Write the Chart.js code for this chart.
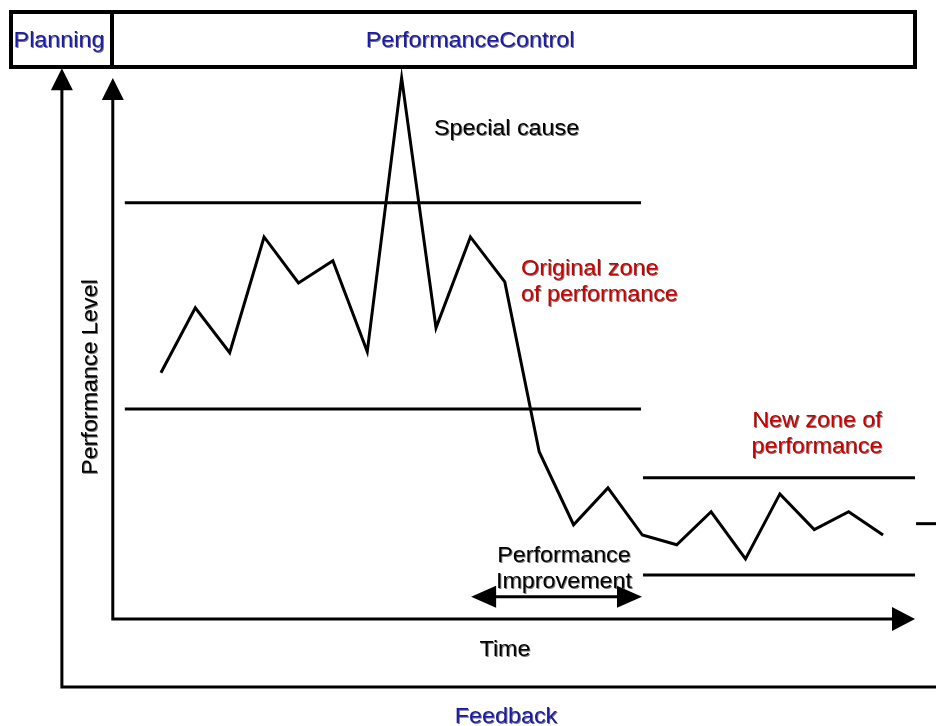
<!DOCTYPE html>
<html>
<head>
<meta charset="utf-8">
<title>Performance Control</title>
<script src="https://cdn.jsdelivr.net/npm/chart.js@4"></script>
<style>
    html, body { margin: 0; padding: 0; background: #fff; overflow: hidden; }
    #wrap { width: 936px; height: 726px; }
</style>
</head>
<body>
<div id="wrap"><canvas id="chart" width="936" height="726"></canvas></div>
<script>
// Time periods and the measured performance level at each one
const periods = [0, 1, 2, 3, 4, 5, 6, 7, 8, 9, 10, 11, 12, 13, 14, 15, 16, 17, 18, 19, 20, 21];
const performance = [45.5, 57.5, 49.2, 70.6, 62.1, 66.2, 49.4, 100, 53.8, 70.6, 62.3,
                     30.9, 17.4, 24.2, 15.5, 13.7, 19.8, 11.1, 23.1, 16.5, 19.8, 15.5];

// Control limits: level, first period, last period
const limitLevels = [76.9, 38.8, 26.1, 8.1, 17.6];
const limitFrom   = [-1.05, -1.05, 14.02, 14.02, 21.96];
const limitTo     = [13.96, 13.96, 21.93, 21.93, 22.54];

// Improvement span (periods) and its level
const improvementSpan = [9.02, 13.99];
const improvementLevel = 4.1;

// Axis extents
const timeRange = [-4.68, 22.54];
const levelRange = [-19.8, 114.4];
const axisTime = -1.40;
const axisEnd = 21.93;
const axisTop = 100;
const feedbackTime = -2.88;
const feedbackLevel = -12.6;
const feedbackTop = 101.8;

const INK = '#000';
const BLUE = '#1a1aaa';
const RED = '#cc0000';
const FONT = '22px "Liberation Sans", Arial, sans-serif';

function arrowHead(ctx, x, y, dx, dy, len, half) {
    ctx.beginPath();
    ctx.moveTo(x, y);
    ctx.lineTo(x - dx * len - dy * half, y - dy * len + dx * half);
    ctx.lineTo(x - dx * len + dy * half, y - dy * len - dx * half);
    ctx.closePath();
    ctx.fill();
}

function line(ctx, x1, y1, x2, y2) {
    ctx.beginPath();
    ctx.moveTo(x1, y1);
    ctx.lineTo(x2, y2);
    ctx.stroke();
}

function label(ctx, text, x, y, color, align, rotate) {
    ctx.save();
    ctx.translate(x, y);
    if (rotate) ctx.rotate(-Math.PI / 2);
    ctx.scale(1.06, 1);
    ctx.font = FONT;
    ctx.textAlign = align || 'left';
    ctx.textBaseline = 'alphabetic';
    ctx.shadowColor = 'rgba(0,0,0,0.55)';
    ctx.shadowOffsetX = 1;
    ctx.shadowOffsetY = 1;
    ctx.shadowBlur = 0;
    ctx.fillStyle = color;
    ctx.fillText(text, 0, 0);
    ctx.restore();
}

const diagram = {
    id: 'diagram',
    afterDatasetsDraw(chart) {
        const ctx = chart.ctx;
        const xs = chart.scales.x, ys = chart.scales.y;
        ctx.save();
        ctx.strokeStyle = INK;
        ctx.fillStyle = INK;
        ctx.lineWidth = 3;
        ctx.lineCap = 'butt';

        // Performance axes
        const ax = xs.getPixelForValue(axisTime);
        const ay = ys.getPixelForValue(0);
        const yTip = ys.getPixelForValue(axisTop);
        const xTip = xs.getPixelForValue(axisEnd);
        ctx.beginPath();
        ctx.moveTo(ax, yTip + 18);
        ctx.lineTo(ax, ay);
        ctx.lineTo(xTip - 18, ay);
        ctx.stroke();
        arrowHead(ctx, ax, yTip, 0, -1, 22, 11);
        arrowHead(ctx, xTip, ay, 1, 0, 23, 12);

        // Feedback loop
        const fx = xs.getPixelForValue(feedbackTime);
        const fy = ys.getPixelForValue(feedbackLevel);
        const fTip = ys.getPixelForValue(feedbackTop);
        ctx.beginPath();
        ctx.moveTo(fx, fTip + 18);
        ctx.lineTo(fx, fy);
        ctx.lineTo(chart.width, fy);
        ctx.stroke();
        arrowHead(ctx, fx, fTip, 0, -1, 22, 11);

        // Improvement double arrow
        const ix1 = xs.getPixelForValue(improvementSpan[0]);
        const ix2 = xs.getPixelForValue(improvementSpan[1]);
        const iy = ys.getPixelForValue(improvementLevel);
        line(ctx, ix1 + 20, iy, ix2 - 20, iy);
        arrowHead(ctx, ix1, iy, -1, 0, 25, 11);
        arrowHead(ctx, ix2, iy, 1, 0, 25, 11);

        // Header boxes
        ctx.lineWidth = 4;
        ctx.strokeRect(11, 12, 904, 55);
        line(ctx, 112, 12, 112, 67);

        ctx.restore();

        // Texts
        label(ctx, 'Planning', 59, 47, BLUE, 'center');
        label(ctx, 'PerformanceControl', 470, 47, BLUE, 'center');
        label(ctx, 'Special cause', 434, 135, INK);
        label(ctx, 'Original zone', 521, 275, RED);
        label(ctx, 'of performance', 521, 301, RED);
        label(ctx, 'New zone of', 817, 427, RED, 'center');
        label(ctx, 'performance', 817, 453, RED, 'center');
        label(ctx, 'Performance', 564, 562, INK, 'center');
        label(ctx, 'Improvement', 564, 588, INK, 'center');
        label(ctx, 'Time', 505, 656, INK, 'center');
        label(ctx, 'Feedback', 506, 723, BLUE, 'center');
        label(ctx, 'Performance Level', 97, 377, INK, 'center', true);
    }
};

const datasets = [{
    data: periods.map((t, i) => ({ x: t, y: performance[i] })),
    borderColor: INK,
    borderWidth: 3,
    borderJoinStyle: 'miter',
    pointRadius: 0,
    tension: 0,
    fill: false
}];
limitLevels.forEach((lvl, i) => {
    datasets.push({
        data: [{ x: limitFrom[i], y: lvl }, { x: limitTo[i], y: lvl }],
        borderColor: INK,
        borderWidth: 3,
        pointRadius: 0,
        fill: false
    });
});

new Chart(document.getElementById('chart'), {
    type: 'line',
    data: { datasets: datasets },
    options: {
        responsive: false,
        devicePixelRatio: 1,
        animation: false,
        layout: { padding: 0 },
        plugins: { legend: { display: false }, tooltip: { enabled: false } },
        scales: {
            x: { type: 'linear', min: timeRange[0], max: timeRange[1], display: false },
            y: { type: 'linear', min: levelRange[0], max: levelRange[1], display: false }
        }
    },
    plugins: [diagram]
});
</script>
</body>
</html>
